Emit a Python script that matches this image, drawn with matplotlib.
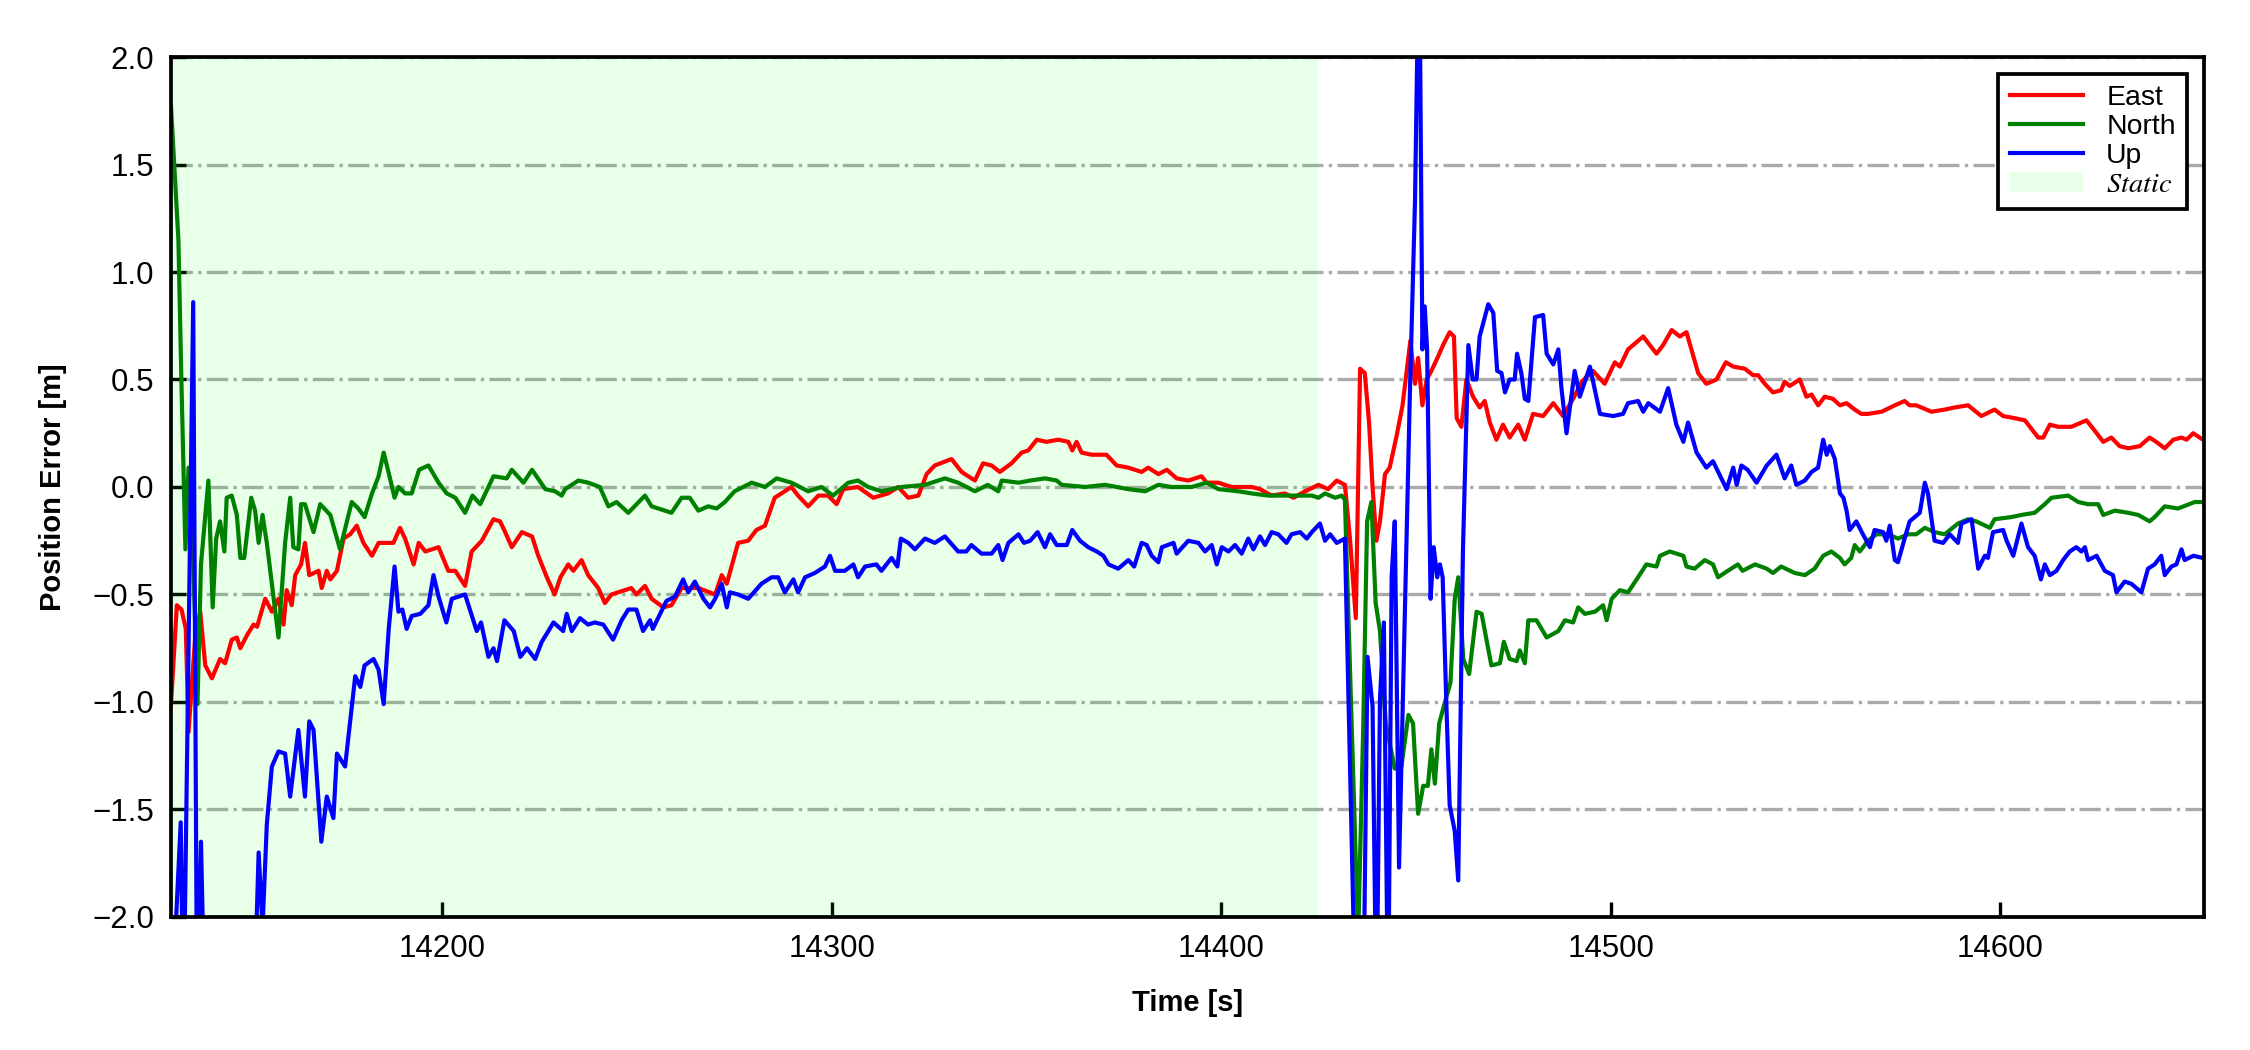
import matplotlib
matplotlib.use("Agg")
import matplotlib.pyplot as plt
import numpy as np

plt.rcParams['font.family'] = ['Liberation Sans', 'DejaVu Sans']
plt.rcParams['mathtext.fontset'] = 'stix'

# static period (shaded)
static_start = 14130.3
static_end = 14424.7
x_range = (14130.3, 14652.3)
y_range = (-2.0, 2.0)

# East error
east_time = [14130.3, 14131.8, 14133.0, 14134.1, 14134.8, 14136.5, 14137.8, 14139.1, 14140.8, 14142.9,
             14144.2, 14145.9, 14147.2, 14148.1, 14149.8, 14151.5, 14152.4, 14154.5, 14156.2, 14157.9,
             14159.2, 14160.0, 14161.3, 14162.2, 14163.7, 14164.7, 14165.8, 14168.2, 14169.0, 14170.3,
             14171.2, 14172.9, 14174.6, 14176.3, 14178.0, 14179.7, 14181.9, 14183.6, 14185.7, 14187.4,
             14189.1, 14190.4, 14192.6, 14193.9, 14195.6, 14199.0, 14201.5, 14203.3, 14205.8, 14207.5,
             14210.1, 14213.1, 14214.8, 14216.1, 14217.8, 14220.4, 14223.0, 14224.6, 14226.8, 14228.8,
             14230.3, 14232.3, 14233.6, 14235.7, 14237.4, 14240.0, 14241.7, 14243.4, 14248.5, 14249.8,
             14252.0, 14253.7, 14256.7, 14258.8, 14261.4, 14265.7, 14270.0, 14271.7, 14273.0, 14275.9,
             14278.5, 14280.6, 14282.8, 14285.3, 14289.6, 14291.3, 14293.9, 14296.5, 14299.0, 14301.2,
             14302.9, 14306.7, 14310.6, 14314.4, 14317.0, 14319.6, 14322.2, 14324.3, 14326.4, 14330.7,
             14333.3, 14336.7, 14338.8, 14341.0, 14343.1, 14346.1, 14348.7, 14350.4, 14352.6, 14355.1,
             14358.1, 14360.7, 14361.7, 14362.8, 14364.1, 14366.7, 14370.5, 14373.1, 14376.1, 14379.5,
             14381.2, 14383.8, 14386.0, 14388.5, 14391.5, 14394.9, 14396.2, 14399.2, 14402.6, 14407.8,
             14409.9, 14412.9, 14416.3, 14418.5, 14421.5, 14424.9, 14427.4, 14429.6, 14431.7, 14433.0,
             14434.5, 14435.6, 14436.8, 14437.9, 14438.8, 14439.8, 14440.7, 14442.0, 14443.2, 14445.0,
             14446.5, 14448.5, 14449.7, 14450.5, 14451.6, 14452.7, 14453.9, 14455.7, 14456.9, 14458.6,
             14459.7, 14460.4, 14461.6, 14462.9, 14464.6, 14466.3, 14467.6, 14468.9, 14470.6, 14472.3,
             14474.0, 14476.2, 14477.9, 14480.0, 14482.6, 14485.2, 14487.7, 14490.3, 14492.5, 14495.4,
             14498.4, 14501.0, 14502.3, 14504.4, 14508.3, 14511.7, 14513.4, 14515.6, 14517.7, 14519.4,
             14522.4, 14524.5, 14527.1, 14529.5, 14531.4, 14534.4, 14536.5, 14537.8, 14539.5, 14541.6,
             14543.7, 14544.6, 14545.9, 14548.5, 14550.2, 14551.5, 14553.2, 14554.9, 14557.0, 14558.8,
             14560.5, 14562.6, 14564.3, 14566.0, 14569.5, 14572.9, 14575.4, 14576.7, 14578.4, 14582.3,
             14585.7, 14588.3, 14591.7, 14595.1, 14598.5, 14600.7, 14603.7, 14606.3, 14608.0, 14609.7,
             14611.0, 14612.7, 14614.8, 14618.2, 14622.1, 14624.3, 14626.4, 14628.5, 14630.6, 14632.8,
             14635.8, 14638.3, 14640.0, 14642.2, 14644.4, 14646.5, 14647.8, 14649.5, 14652.0]
east_err = [-1.01, -0.55, -0.57, -0.66, -1.14, -0.70, -0.58, -0.83, -0.89, -0.80,
            -0.82, -0.71, -0.70, -0.75, -0.69, -0.64, -0.65, -0.52, -0.58, -0.52,
            -0.64, -0.48, -0.55, -0.41, -0.36, -0.26, -0.41, -0.39, -0.47, -0.39,
            -0.43, -0.39, -0.24, -0.22, -0.18, -0.26, -0.32, -0.26, -0.26, -0.26,
            -0.19, -0.24, -0.36, -0.26, -0.30, -0.28, -0.39, -0.39, -0.46, -0.30,
            -0.25, -0.15, -0.16, -0.21, -0.28, -0.21, -0.23, -0.32, -0.42, -0.50,
            -0.42, -0.36, -0.39, -0.34, -0.41, -0.47, -0.54, -0.50, -0.47, -0.50,
            -0.46, -0.52, -0.56, -0.55, -0.47, -0.47, -0.50, -0.41, -0.45, -0.26,
            -0.25, -0.20, -0.18, -0.05, 0.00, -0.04, -0.09, -0.04, -0.04, -0.08,
            -0.01, 0.00, -0.05, -0.03, 0.00, -0.05, -0.04, 0.06, 0.10, 0.13,
            0.07, 0.03, 0.11, 0.10, 0.07, 0.11, 0.16, 0.17, 0.22, 0.21,
            0.22, 0.21, 0.17, 0.21, 0.16, 0.15, 0.15, 0.10, 0.09, 0.07,
            0.09, 0.06, 0.08, 0.04, 0.03, 0.05, 0.02, 0.02, 0.00, 0.00,
            -0.01, -0.04, -0.03, -0.05, -0.02, 0.01, -0.01, 0.03, 0.01, -0.24,
            -0.61, 0.55, 0.53, 0.30, 0.00, -0.25, -0.16, 0.06, 0.09, 0.24,
            0.38, 0.68, 0.48, 0.60, 0.38, 0.50, 0.54, 0.61, 0.66, 0.72,
            0.70, 0.32, 0.28, 0.50, 0.42, 0.37, 0.40, 0.30, 0.22, 0.29,
            0.23, 0.29, 0.22, 0.34, 0.33, 0.39, 0.33, 0.41, 0.49, 0.54,
            0.48, 0.58, 0.56, 0.64, 0.70, 0.62, 0.66, 0.73, 0.70, 0.72,
            0.53, 0.48, 0.50, 0.58, 0.56, 0.55, 0.52, 0.52, 0.48, 0.44,
            0.45, 0.49, 0.47, 0.50, 0.42, 0.43, 0.38, 0.42, 0.41, 0.38,
            0.39, 0.36, 0.34, 0.34, 0.35, 0.38, 0.40, 0.38, 0.38, 0.35,
            0.36, 0.37, 0.38, 0.33, 0.36, 0.33, 0.32, 0.31, 0.27, 0.23,
            0.23, 0.29, 0.28, 0.28, 0.31, 0.26, 0.21, 0.23, 0.19, 0.18,
            0.19, 0.23, 0.21, 0.18, 0.22, 0.23, 0.22, 0.25, 0.22]

# North error
north_time = [14130.3, 14132.2, 14133.0, 14134.0, 14134.8, 14135.8, 14137.1, 14138.0, 14139.9, 14141.0,
              14141.9, 14142.9, 14144.0, 14144.6, 14145.9, 14147.2, 14148.1, 14149.1, 14150.9, 14151.9,
              14152.8, 14153.8, 14154.9, 14157.9, 14159.6, 14160.9, 14161.7, 14163.0, 14163.7, 14164.7,
              14166.9, 14168.6, 14171.2, 14173.7, 14176.7, 14178.4, 14180.0, 14181.9, 14183.6, 14184.9,
              14186.0, 14187.7, 14188.7, 14190.4, 14192.1, 14194.0, 14196.4, 14199.0, 14201.1, 14203.3,
              14205.8, 14207.7, 14209.7, 14213.1, 14216.5, 14217.8, 14220.8, 14223.0, 14226.4, 14228.9,
              14230.6, 14231.5, 14234.9, 14237.4, 14240.4, 14242.6, 14244.7, 14247.7, 14252.0, 14253.7,
              14258.8, 14261.4, 14263.5, 14265.7, 14268.2, 14270.4, 14272.5, 14275.0, 14279.4, 14282.8,
              14285.8, 14289.6, 14293.9, 14297.3, 14300.3, 14304.2, 14306.7, 14309.3, 14312.7, 14317.9,
              14323.9, 14329.0, 14332.4, 14336.7, 14340.0, 14342.7, 14343.6, 14347.9, 14350.9, 14354.7,
              14357.7, 14359.0, 14365.0, 14370.1, 14376.1, 14380.4, 14383.8, 14387.2, 14392.4, 14396.2,
              14399.2, 14404.3, 14407.8, 14412.0, 14416.3, 14423.2, 14424.9, 14426.6, 14429.2, 14430.9,
              14431.7, 14435.1, 14436.4, 14437.4, 14438.5, 14439.6, 14440.7, 14442.2, 14444.5, 14446.2,
              14448.0, 14449.2, 14450.5, 14451.8, 14453.0, 14453.9, 14454.8, 14455.9, 14457.4, 14458.8,
              14459.9, 14460.8, 14462.1, 14463.6, 14465.5, 14466.8, 14469.3, 14471.5, 14472.5, 14474.0,
              14475.8, 14476.6, 14477.9, 14478.8, 14480.9, 14483.5, 14486.5, 14488.2, 14490.3, 14491.6,
              14493.3, 14495.9, 14498.0, 14498.9, 14500.2, 14502.3, 14504.4, 14506.6, 14509.1, 14511.7,
              14512.6, 14515.1, 14518.6, 14519.4, 14521.5, 14524.1, 14526.2, 14527.5, 14530.0, 14532.6,
              14533.8, 14537.0, 14540.0, 14541.6, 14543.7, 14547.2, 14549.8, 14552.3, 14554.5, 14556.6,
              14558.8, 14560.0, 14561.7, 14562.6, 14563.9, 14566.0, 14568.2, 14571.2, 14573.7, 14576.3,
              14578.4, 14580.6, 14583.1, 14585.7, 14589.1, 14591.7, 14593.8, 14597.3, 14598.5, 14602.8,
              14605.4, 14608.8, 14611.4, 14613.1, 14617.4, 14620.0, 14622.5, 14625.1, 14626.4, 14629.4,
              14632.8, 14635.4, 14638.3, 14639.6, 14642.2, 14645.6, 14649.9, 14652.0]
north_err = [1.77, 1.15, 0.47, -0.29, 0.09, -0.20, -1.01, -0.36, 0.03, -0.56,
             -0.24, -0.16, -0.30, -0.05, -0.04, -0.13, -0.33, -0.33, -0.05, -0.11,
             -0.26, -0.13, -0.26, -0.70, -0.26, -0.05, -0.28, -0.29, -0.08, -0.08,
             -0.21, -0.08, -0.13, -0.29, -0.07, -0.10, -0.14, -0.03, 0.05, 0.16,
             0.08, -0.05, 0.00, -0.03, -0.03, 0.08, 0.10, 0.02, -0.03, -0.05,
             -0.12, -0.04, -0.08, 0.05, 0.04, 0.08, 0.02, 0.08, -0.01, -0.02,
             -0.04, -0.01, 0.03, 0.02, 0.00, -0.09, -0.07, -0.12, -0.04, -0.09,
             -0.12, -0.05, -0.05, -0.11, -0.09, -0.10, -0.07, -0.02, 0.02, 0.00,
             0.04, 0.02, -0.02, 0.00, -0.04, 0.02, 0.03, 0.00, -0.02, 0.00,
             0.01, 0.04, 0.02, -0.02, 0.01, -0.02, 0.03, 0.02, 0.03, 0.04,
             0.03, 0.01, 0.00, 0.01, -0.01, -0.02, 0.01, 0.00, 0.00, 0.02,
             -0.01, -0.02, -0.03, -0.04, -0.04, -0.04, -0.05, -0.03, -0.05, -0.04,
             -0.06, -2.10, -1.12, -0.16, -0.07, -0.54, -0.67, -1.10, -1.31, -1.30,
             -1.06, -1.10, -1.52, -1.39, -1.39, -1.22, -1.38, -1.10, -1.00, -0.91,
             -0.52, -0.42, -0.80, -0.87, -0.58, -0.59, -0.83, -0.82, -0.72, -0.80,
             -0.81, -0.76, -0.82, -0.62, -0.62, -0.70, -0.67, -0.62, -0.63, -0.56,
             -0.59, -0.58, -0.55, -0.62, -0.52, -0.48, -0.49, -0.43, -0.36, -0.37,
             -0.32, -0.30, -0.32, -0.37, -0.38, -0.34, -0.36, -0.42, -0.39, -0.36,
             -0.39, -0.36, -0.38, -0.40, -0.37, -0.40, -0.41, -0.38, -0.32, -0.30,
             -0.33, -0.36, -0.33, -0.27, -0.30, -0.25, -0.22, -0.22, -0.24, -0.22,
             -0.22, -0.19, -0.21, -0.22, -0.17, -0.15, -0.16, -0.19, -0.15, -0.14,
             -0.13, -0.12, -0.08, -0.05, -0.04, -0.07, -0.08, -0.08, -0.13, -0.11,
             -0.12, -0.13, -0.16, -0.14, -0.09, -0.10, -0.07, -0.07]

# Up error (values beyond the axis limits run off the plot)
up_time = [14130.3, 14132.8, 14133.5, 14136.0, 14137.0, 14138.0, 14139.0, 14145.0, 14151.5, 14152.8,
           14153.8, 14154.9, 14156.2, 14157.9, 14159.6, 14160.9, 14163.0, 14164.7, 14165.8, 14166.9,
           14168.9, 14170.3, 14172.0, 14172.9, 14175.0, 14177.6, 14178.9, 14180.0, 14182.3, 14183.6,
           14184.9, 14186.2, 14187.7, 14188.7, 14189.7, 14190.8, 14192.1, 14194.3, 14196.4, 14197.7,
           14199.0, 14201.0, 14202.4, 14205.8, 14208.8, 14209.9, 14211.8, 14213.1, 14214.0, 14215.9,
           14218.3, 14220.0, 14221.7, 14223.8, 14225.5, 14227.2, 14228.5, 14231.0, 14231.9, 14233.2,
           14235.3, 14237.4, 14239.1, 14241.3, 14243.8, 14246.0, 14247.7, 14249.8, 14251.5, 14253.3,
           14254.0, 14257.5, 14259.7, 14261.8, 14263.1, 14264.8, 14267.0, 14268.7, 14270.0, 14271.7,
           14273.0, 14273.8, 14275.9, 14278.5, 14281.9, 14284.5, 14286.2, 14287.9, 14290.1, 14291.3,
           14293.1, 14295.6, 14298.2, 14299.5, 14300.8, 14303.3, 14305.5, 14306.7, 14308.5, 14311.4,
           14312.7, 14315.3, 14316.8, 14317.7, 14319.6, 14321.3, 14323.9, 14326.4, 14329.0, 14332.4,
           14334.5, 14335.8, 14338.4, 14341.0, 14342.7, 14343.8, 14345.3, 14347.9, 14349.3, 14350.9,
           14352.8, 14354.7, 14356.0, 14357.7, 14360.3, 14361.7, 14363.7, 14365.8, 14368.0, 14369.7,
           14371.0, 14373.5, 14376.1, 14377.6, 14379.5, 14380.8, 14382.1, 14383.8, 14384.7, 14387.7,
           14388.5, 14391.5, 14394.1, 14395.8, 14397.5, 14398.8, 14400.1, 14401.8, 14403.5, 14405.2,
           14406.9, 14408.2, 14409.9, 14411.2, 14412.9, 14414.6, 14416.7, 14418.0, 14420.2, 14421.9,
           14423.2, 14425.3, 14426.6, 14427.9, 14429.6, 14431.7, 14434.5, 14436.4, 14437.5, 14438.8,
           14439.8, 14440.7, 14441.7, 14442.8, 14443.7, 14444.5, 14445.6, 14447.1, 14448.4, 14449.7,
           14450.5, 14450.9, 14451.6, 14452.2, 14452.8, 14453.7, 14454.5, 14455.4, 14456.1, 14456.8,
           14457.8, 14458.6, 14459.9, 14460.8, 14462.0, 14463.4, 14464.5, 14465.5, 14466.3, 14468.5,
           14469.8, 14470.8, 14471.9, 14472.8, 14474.0, 14475.3, 14475.9, 14477.0, 14477.9, 14478.8,
           14480.5, 14482.6, 14483.5, 14485.2, 14486.5, 14487.3, 14488.6, 14490.7, 14492.0, 14494.6,
           14497.2, 14500.6, 14503.1, 14504.4, 14507.0, 14508.3, 14509.6, 14512.6, 14514.7, 14516.8,
           14518.6, 14519.8, 14522.0, 14524.5, 14526.2, 14529.7, 14531.4, 14532.3, 14533.5, 14535.1,
           14537.4, 14540.0, 14542.5, 14544.6, 14546.3, 14547.6, 14549.8, 14551.5, 14553.2, 14554.5,
           14555.4, 14556.2, 14557.5, 14558.8, 14559.7, 14560.5, 14561.3, 14563.0, 14564.7, 14566.5,
           14567.7, 14569.9, 14570.7, 14571.6, 14572.9, 14573.7, 14575.4, 14576.7, 14579.3, 14580.6,
           14581.4, 14583.1, 14585.3, 14587.0, 14589.1, 14590.0, 14592.6, 14594.3, 14596.0, 14596.8,
           14598.1, 14600.7, 14601.6, 14603.3, 14605.4, 14607.1, 14608.8, 14610.4, 14611.4, 14612.7,
           14614.4, 14616.1, 14617.8, 14619.5, 14620.8, 14621.7, 14622.5, 14624.7, 14626.8, 14628.9,
           14629.8, 14631.9, 14633.6, 14636.2, 14637.9, 14639.6, 14641.3, 14642.2, 14643.9, 14645.2,
           14646.5, 14647.3, 14649.5, 14652.0]
up_err = [-2.50, -1.56, -2.50, 0.86, -2.50, -1.65, -2.50, -2.80, -2.50, -1.70,
          -2.05, -1.57, -1.30, -1.23, -1.24, -1.44, -1.13, -1.44, -1.09, -1.13,
          -1.65, -1.44, -1.54, -1.24, -1.30, -0.88, -0.93, -0.83, -0.80, -0.85,
          -1.01, -0.66, -0.37, -0.58, -0.57, -0.66, -0.60, -0.59, -0.55, -0.41,
          -0.51, -0.63, -0.52, -0.50, -0.67, -0.63, -0.79, -0.75, -0.81, -0.62,
          -0.67, -0.79, -0.75, -0.80, -0.72, -0.67, -0.63, -0.67, -0.59, -0.67,
          -0.61, -0.64, -0.63, -0.64, -0.71, -0.62, -0.57, -0.57, -0.67, -0.62,
          -0.66, -0.53, -0.51, -0.43, -0.49, -0.44, -0.52, -0.56, -0.52, -0.45,
          -0.56, -0.49, -0.50, -0.52, -0.45, -0.42, -0.42, -0.49, -0.43, -0.49,
          -0.42, -0.40, -0.37, -0.32, -0.39, -0.39, -0.36, -0.42, -0.37, -0.36,
          -0.39, -0.33, -0.37, -0.24, -0.26, -0.29, -0.24, -0.26, -0.23, -0.30,
          -0.30, -0.27, -0.31, -0.31, -0.27, -0.34, -0.26, -0.22, -0.26, -0.25,
          -0.21, -0.28, -0.22, -0.27, -0.27, -0.20, -0.25, -0.28, -0.30, -0.32,
          -0.36, -0.38, -0.34, -0.37, -0.26, -0.27, -0.32, -0.35, -0.28, -0.26,
          -0.31, -0.25, -0.26, -0.30, -0.27, -0.36, -0.28, -0.30, -0.27, -0.31,
          -0.24, -0.29, -0.23, -0.27, -0.21, -0.22, -0.26, -0.22, -0.21, -0.24,
          -0.21, -0.17, -0.25, -0.22, -0.26, -0.24, -2.50, -2.50, -0.79, -1.02,
          -2.50, -0.99, -0.63, -2.50, -0.42, -0.16, -1.77, -0.59, 0.45, 1.33,
          2.30, 2.30, 0.64, 0.84, 0.64, -0.52, -0.28, -0.42, -0.36, -0.42,
          -1.04, -1.48, -1.60, -1.83, -0.30, 0.66, 0.50, 0.50, 0.70, 0.85,
          0.81, 0.54, 0.53, 0.44, 0.50, 0.50, 0.62, 0.53, 0.41, 0.40,
          0.79, 0.80, 0.62, 0.57, 0.64, 0.46, 0.25, 0.54, 0.42, 0.56,
          0.34, 0.33, 0.34, 0.39, 0.40, 0.35, 0.39, 0.35, 0.46, 0.29,
          0.21, 0.30, 0.16, 0.09, 0.12, -0.01, 0.09, 0.01, 0.10, 0.08,
          0.02, 0.10, 0.15, 0.04, 0.10, 0.01, 0.03, 0.07, 0.09, 0.22,
          0.15, 0.19, 0.13, -0.03, -0.05, -0.11, -0.20, -0.16, -0.22, -0.28,
          -0.20, -0.21, -0.25, -0.18, -0.34, -0.35, -0.24, -0.16, -0.12, 0.02,
          -0.03, -0.25, -0.26, -0.22, -0.26, -0.17, -0.15, -0.38, -0.32, -0.33,
          -0.21, -0.20, -0.25, -0.32, -0.17, -0.28, -0.32, -0.43, -0.36, -0.41,
          -0.39, -0.34, -0.30, -0.28, -0.30, -0.28, -0.34, -0.32, -0.39, -0.41,
          -0.49, -0.44, -0.45, -0.49, -0.38, -0.36, -0.32, -0.41, -0.37, -0.36,
          -0.29, -0.34, -0.32, -0.33]

fig = plt.figure(figsize=(7.5, 3.5), dpi=300)
ax = fig.add_axes([0.076, 0.1267, 0.9036, 0.819])

ax.axvspan(static_start, static_end, facecolor='lime', alpha=0.09, lw=0, label='$\\it{Static}$')
ax.plot(east_time, east_err, color='red', lw=1.0, label='East')
ax.plot(north_time, north_err, color='green', lw=1.0, label='North')
ax.plot(up_time, up_err, color='blue', lw=1.0, label='Up')

ax.set_xlim(*x_range)
ax.set_ylim(*y_range)
ax.set_yticks(np.arange(-2.0, 2.01, 0.5))
ax.set_xticks([14200, 14300, 14400, 14500, 14600])
ax.yaxis.grid(True, linestyle='-.', color='#aaaaaa', lw=0.8)
ax.set_axisbelow(True)

ax.tick_params(direction='in', length=3.5, width=0.8, labelsize=7.5, pad=4)
for s in ax.spines.values():
    s.set_linewidth(0.9)

narrow = ['Liberation Sans Narrow', 'Liberation Sans', 'DejaVu Sans']
ax.set_xlabel('Time [s]', fontsize=7, fontweight='bold', family=narrow, labelpad=6)
ax.set_ylabel('Position Error [m]', fontsize=7, fontweight='bold', family=narrow, labelpad=6)

# legend: lines first, shaded patch last
handles, labels = ax.get_legend_handles_labels()
order = [1, 2, 3, 0]
leg = ax.legend([handles[i] for i in order], [labels[i] for i in order],
                loc='upper right', fontsize=6.8, fancybox=False, framealpha=1,
                edgecolor='black', borderaxespad=0.6, handlelength=2.6,
                labelspacing=0.1, borderpad=0.4)
leg.get_frame().set_linewidth(0.9)

fig.savefig('out.png', dpi=300)
